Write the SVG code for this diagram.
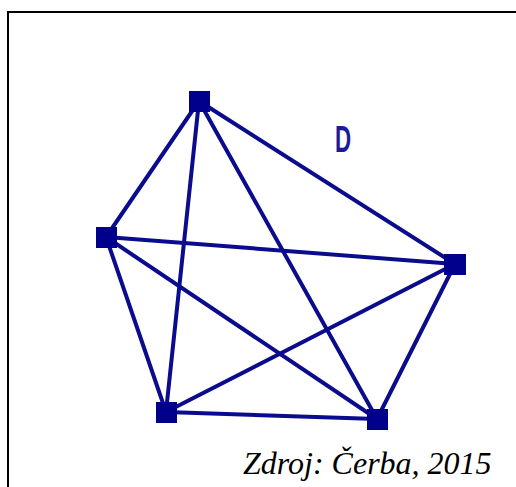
<svg xmlns="http://www.w3.org/2000/svg" width="516" height="487" viewBox="0 0 516 487">
<style>
.edge{stroke:#0b0b8e;stroke-width:4;fill:none;stroke-linecap:round}
.node{fill:#00008c}
.frame{stroke:#000;stroke-width:2;fill:none}
.lbl{font-family:"Liberation Sans",Arial,sans-serif;font-weight:bold;fill:#1a1a9a}
.cap{font-family:"Liberation Serif","Times New Roman",serif;font-style:italic;fill:#000}
</style>
<rect width="516" height="487" fill="#fff"/>
<path class="frame" d="M8,487 V12 H516"/>
<g id="connectors">
<line class="edge" x1="199" y1="101" x2="106" y2="237"/>
<line class="edge" x1="199" y1="101" x2="166" y2="412"/>
<line class="edge" x1="199" y1="101" x2="377" y2="419"/>
<line class="edge" x1="199" y1="101" x2="455" y2="264"/>
<line class="edge" x1="106" y1="237" x2="455" y2="264"/>
<line class="edge" x1="106" y1="237" x2="166" y2="412"/>
<line class="edge" x1="106" y1="237" x2="377" y2="419"/>
<line class="edge" x1="455" y1="264" x2="166" y2="412"/>
<line class="edge" x1="455" y1="264" x2="377" y2="419"/>
<line class="edge" x1="166" y1="412" x2="377" y2="419"/>
</g>
<g id="n-top"><rect class="node" x="189" y="91" width="21" height="21"/></g>
<g id="n-left"><rect class="node" x="96" y="227" width="21" height="21"/></g>
<g id="n-right"><rect class="node" x="444" y="254" width="22" height="21"/></g>
<g id="n-bl"><rect class="node" x="156" y="402" width="21" height="21"/></g>
<g id="n-br"><rect class="node" x="367" y="409" width="21" height="21"/></g>
<g id="label-D"><text class="lbl" x="0" y="0" font-size="36" transform="translate(335 152) scale(0.62 1)">D</text></g>
<text class="cap" x="243" y="474" font-size="32">Zdroj: Čerba, 2015</text>
</svg>
